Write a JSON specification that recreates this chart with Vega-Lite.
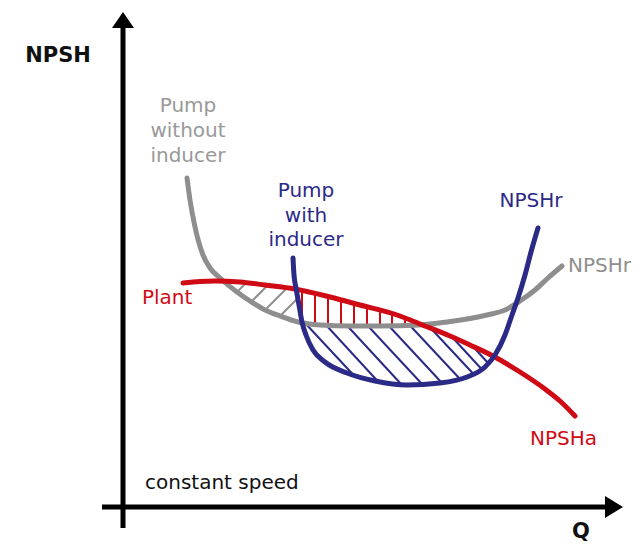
{
  "$schema": "https://vega.github.io/schema/vega-lite/v6.json",
  "width": 636,
  "height": 544,
  "padding": 0,
  "autosize": {"type": "none"},
  "background": "white",
  "config": {"view": {"stroke": null}},
  "datasets": {
    "curves": [
      {"series": "without", "i": 0, "Q": 12.8, "H": 65.8},
      {"series": "without", "i": 1, "Q": 13.4, "H": 61.4},
      {"series": "without", "i": 2, "Q": 14.4, "H": 56.0},
      {"series": "without", "i": 3, "Q": 16.0, "H": 50.4},
      {"series": "without", "i": 4, "Q": 17.4, "H": 47.8},
      {"series": "without", "i": 5, "Q": 19.4, "H": 45.8},
      {"series": "without", "i": 6, "Q": 22.8, "H": 43.0},
      {"series": "without", "i": 7, "Q": 25.4, "H": 41.2},
      {"series": "without", "i": 8, "Q": 28.4, "H": 39.4},
      {"series": "without", "i": 9, "Q": 31.4, "H": 38.2},
      {"series": "without", "i": 10, "Q": 35.0, "H": 37.0},
      {"series": "without", "i": 11, "Q": 39.4, "H": 36.4},
      {"series": "without", "i": 12, "Q": 45.4, "H": 36.2},
      {"series": "without", "i": 13, "Q": 51.4, "H": 36.2},
      {"series": "without", "i": 14, "Q": 59.4, "H": 36.4},
      {"series": "without", "i": 15, "Q": 64.8, "H": 37.0},
      {"series": "without", "i": 16, "Q": 72.8, "H": 38.4},
      {"series": "without", "i": 17, "Q": 76.4, "H": 39.4},
      {"series": "without", "i": 18, "Q": 79.4, "H": 41.2},
      {"series": "without", "i": 19, "Q": 82.4, "H": 43.4},
      {"series": "without", "i": 20, "Q": 85.0, "H": 45.8},
      {"series": "without", "i": 21, "Q": 87.8, "H": 48.2},
      {"series": "plant", "i": 0, "Q": 12.0, "H": 44.8},
      {"series": "plant", "i": 1, "Q": 15.4, "H": 45.1},
      {"series": "plant", "i": 2, "Q": 18.4, "H": 45.2},
      {"series": "plant", "i": 3, "Q": 23.4, "H": 45.0},
      {"series": "plant", "i": 4, "Q": 28.4, "H": 44.4},
      {"series": "plant", "i": 5, "Q": 34.4, "H": 43.6},
      {"series": "plant", "i": 6, "Q": 41.4, "H": 42.0},
      {"series": "plant", "i": 7, "Q": 47.4, "H": 40.4},
      {"series": "plant", "i": 8, "Q": 55.4, "H": 38.2},
      {"series": "plant", "i": 9, "Q": 59.4, "H": 36.6},
      {"series": "plant", "i": 10, "Q": 65.4, "H": 34.2},
      {"series": "plant", "i": 11, "Q": 69.4, "H": 32.4},
      {"series": "plant", "i": 12, "Q": 74.0, "H": 30.2},
      {"series": "plant", "i": 13, "Q": 79.4, "H": 27.0},
      {"series": "plant", "i": 14, "Q": 84.4, "H": 23.6},
      {"series": "plant", "i": 15, "Q": 87.4, "H": 21.2},
      {"series": "plant", "i": 16, "Q": 90.4, "H": 18.2},
      {"series": "with", "i": 0, "Q": 34.0, "H": 49.8},
      {"series": "with", "i": 1, "Q": 34.2, "H": 46.4},
      {"series": "with", "i": 2, "Q": 34.6, "H": 43.8},
      {"series": "with", "i": 3, "Q": 35.2, "H": 40.4},
      {"series": "with", "i": 4, "Q": 35.8, "H": 37.0},
      {"series": "with", "i": 5, "Q": 36.6, "H": 34.4},
      {"series": "with", "i": 6, "Q": 38.0, "H": 31.4},
      {"series": "with", "i": 7, "Q": 40.4, "H": 29.0},
      {"series": "with", "i": 8, "Q": 44.8, "H": 26.8},
      {"series": "with", "i": 9, "Q": 50.4, "H": 25.2},
      {"series": "with", "i": 10, "Q": 56.8, "H": 24.4},
      {"series": "with", "i": 11, "Q": 63.4, "H": 24.8},
      {"series": "with", "i": 12, "Q": 68.8, "H": 26.0},
      {"series": "with", "i": 13, "Q": 72.4, "H": 28.0},
      {"series": "with", "i": 14, "Q": 74.4, "H": 30.4},
      {"series": "with", "i": 15, "Q": 76.4, "H": 34.4},
      {"series": "with", "i": 16, "Q": 77.8, "H": 38.4},
      {"series": "with", "i": 17, "Q": 79.0, "H": 41.8},
      {"series": "with", "i": 18, "Q": 80.4, "H": 46.4},
      {"series": "with", "i": 19, "Q": 81.6, "H": 51.0},
      {"series": "with", "i": 20, "Q": 82.4, "H": 53.8},
      {"series": "with", "i": 21, "Q": 83.0, "H": 55.8}
    ],
    "hatch": [
      {"series": "without", "q1": 22.8, "h1": 43.0, "q2": 24.8, "h2": 45.0},
      {"series": "without", "q1": 25.6, "h1": 41.0, "q2": 29.4, "h2": 44.8},
      {"series": "without", "q1": 28.4, "h1": 39.4, "q2": 32.8, "h2": 43.8},
      {"series": "without", "q1": 31.4, "h1": 38.2, "q2": 35.0, "h2": 41.8},
      {"series": "plant", "q1": 35.8, "h1": 43.2, "q2": 35.8, "h2": 36.9},
      {"series": "plant", "q1": 38.4, "h1": 42.6, "q2": 38.4, "h2": 36.6},
      {"series": "plant", "q1": 41.0, "h1": 42.1, "q2": 41.0, "h2": 36.3},
      {"series": "plant", "q1": 43.6, "h1": 41.4, "q2": 43.6, "h2": 36.3},
      {"series": "plant", "q1": 46.2, "h1": 40.7, "q2": 46.2, "h2": 36.2},
      {"series": "plant", "q1": 48.8, "h1": 40.0, "q2": 48.8, "h2": 36.2},
      {"series": "plant", "q1": 51.4, "h1": 39.3, "q2": 51.4, "h2": 36.2},
      {"series": "plant", "q1": 53.8, "h1": 38.6, "q2": 53.8, "h2": 36.3},
      {"series": "plant", "q1": 56.4, "h1": 37.8, "q2": 56.4, "h2": 36.3},
      {"series": "with", "q1": 36.4, "h1": 36.8, "q2": 46.0, "h2": 26.5},
      {"series": "with", "q1": 40.6, "h1": 36.4, "q2": 51.0, "h2": 25.1},
      {"series": "with", "q1": 44.8, "h1": 36.3, "q2": 55.6, "h2": 24.6},
      {"series": "with", "q1": 49.0, "h1": 36.2, "q2": 59.8, "h2": 24.6},
      {"series": "with", "q1": 53.2, "h1": 36.2, "q2": 63.8, "h2": 24.8},
      {"series": "with", "q1": 57.4, "h1": 36.3, "q2": 67.3, "h2": 25.7},
      {"series": "with", "q1": 61.6, "h1": 35.7, "q2": 70.0, "h2": 26.7},
      {"series": "with", "q1": 65.8, "h1": 34.0, "q2": 71.7, "h2": 27.6},
      {"series": "with", "q1": 70.0, "h1": 32.1, "q2": 73.0, "h2": 28.8}
    ],
    "axes": [
      {"axis": "NPSH", "q1": 0, "h1": -4.2, "q2": 0, "h2": 96.4},
      {"axis": "Q", "q1": -4.2, "h1": 0, "q2": 97.4, "h2": 0}
    ],
    "arrowUp": [{"axis": "NPSH", "Q": 0, "H": 97.4}],
    "arrowRight": [{"axis": "Q", "Q": 98.2, "H": 0}],
    "boldLabels": [
      {"text": "NPSH", "Q": -13, "H": 89},
      {"text": "Q", "Q": 91.6, "H": -6.2}
    ],
    "centerLabels": [
      {"series": "without", "text": "Pump", "Q": 13, "H": 79},
      {"series": "without", "text": "without", "Q": 13, "H": 74},
      {"series": "without", "text": "inducer", "Q": 13, "H": 69},
      {"series": "with", "text": "Pump", "Q": 36.6, "H": 62},
      {"series": "with", "text": "with", "Q": 36.6, "H": 57},
      {"series": "with", "text": "inducer", "Q": 36.6, "H": 52.2},
      {"series": "with", "text": "NPSHr", "Q": 81.6, "H": 60}
    ],
    "leftLabels": [
      {"series": "without", "text": "NPSHr", "Q": 89, "H": 47},
      {"series": "plant", "text": "Plant", "Q": 3.8, "H": 40.6},
      {"series": "plant", "text": "NPSHa", "Q": 81.4, "H": 12.4},
      {"series": "general", "text": "constant speed", "Q": 4.4, "H": 3.6}
    ]
  },
  "encoding": {
    "x": {"type": "quantitative", "scale": {"domain": [-24.6, 102.6], "nice": false, "zero": false}, "axis": null},
    "y": {"type": "quantitative", "scale": {"domain": [-7.4, 101.4], "nice": false, "zero": false}, "axis": null}
  },
  "layer": [
    {
      "data": {"name": "hatch"},
      "mark": {"type": "rule", "strokeWidth": 2},
      "encoding": {
        "x": {"field": "q1", "type": "quantitative"},
        "y": {"field": "h1", "type": "quantitative"},
        "x2": {"field": "q2"},
        "y2": {"field": "h2"},
        "color": {"field": "series", "type": "nominal", "scale": {"domain": ["without", "plant", "with", "general"], "range": ["#8e8e8e", "#d00a14", "#2c2a87", "#111111"]}, "legend": null}
      }
    },
    {
      "data": {"name": "curves"},
      "mark": {"type": "line", "strokeWidth": 5, "strokeCap": "round", "interpolate": "monotone"},
      "encoding": {
        "x": {"field": "Q", "type": "quantitative"},
        "y": {"field": "H", "type": "quantitative"},
        "order": {"field": "i", "type": "quantitative"},
        "color": {"field": "series", "type": "nominal", "scale": {"domain": ["without", "plant", "with", "general"], "range": ["#8e8e8e", "#d00a14", "#2c2a87", "#111111"]}, "legend": null, "sort": ["without", "plant", "with"]}
      }
    },
    {
      "data": {"name": "axes"},
      "mark": {"type": "rule", "strokeWidth": 5, "color": "#000000"},
      "encoding": {
        "x": {"field": "q1", "type": "quantitative"},
        "y": {"field": "h1", "type": "quantitative"},
        "x2": {"field": "q2"},
        "y2": {"field": "h2"}
      }
    },
    {
      "data": {"name": "arrowUp"},
      "mark": {"type": "point", "shape": "M0,-1L-1.375,1L1.375,1Z", "size": 256, "filled": true, "color": "#000000", "opacity": 1, "strokeWidth": 0},
      "encoding": {
        "x": {"field": "Q", "type": "quantitative"},
        "y": {"field": "H", "type": "quantitative"}
      }
    },
    {
      "data": {"name": "arrowRight"},
      "mark": {"type": "point", "shape": "M1,0L-1,-1.22L-1,1.22Z", "size": 324, "filled": true, "color": "#000000", "opacity": 1, "strokeWidth": 0},
      "encoding": {
        "x": {"field": "Q", "type": "quantitative"},
        "y": {"field": "H", "type": "quantitative"}
      }
    },
    {
      "data": {"name": "boldLabels"},
      "mark": {"type": "text", "font": "DejaVu Sans", "fontSize": 21, "fontWeight": "bold", "align": "center", "baseline": "alphabetic", "color": "#111111"},
      "encoding": {
        "x": {"field": "Q", "type": "quantitative"},
        "y": {"field": "H", "type": "quantitative"},
        "text": {"field": "text"}
      }
    },
    {
      "data": {"name": "centerLabels"},
      "mark": {"type": "text", "font": "DejaVu Sans", "fontSize": 20, "align": "center", "baseline": "alphabetic"},
      "encoding": {
        "x": {"field": "Q", "type": "quantitative"},
        "y": {"field": "H", "type": "quantitative"},
        "text": {"field": "text"},
        "color": {"field": "series", "type": "nominal", "scale": {"domain": ["without", "plant", "with", "general"], "range": ["#999999", "#d00a14", "#2c2a87", "#111111"]}, "legend": null}
      }
    },
    {
      "data": {"name": "leftLabels"},
      "mark": {"type": "text", "font": "DejaVu Sans", "fontSize": 20, "align": "left", "baseline": "alphabetic"},
      "encoding": {
        "x": {"field": "Q", "type": "quantitative"},
        "y": {"field": "H", "type": "quantitative"},
        "text": {"field": "text"},
        "color": {"field": "series", "type": "nominal", "scale": {"domain": ["without", "plant", "with", "general"], "range": ["#8e8e8e", "#d00a14", "#2c2a87", "#111111"]}, "legend": null}
      }
    }
  ],
  "resolve": {"scale": {"color": "independent"}}
}
